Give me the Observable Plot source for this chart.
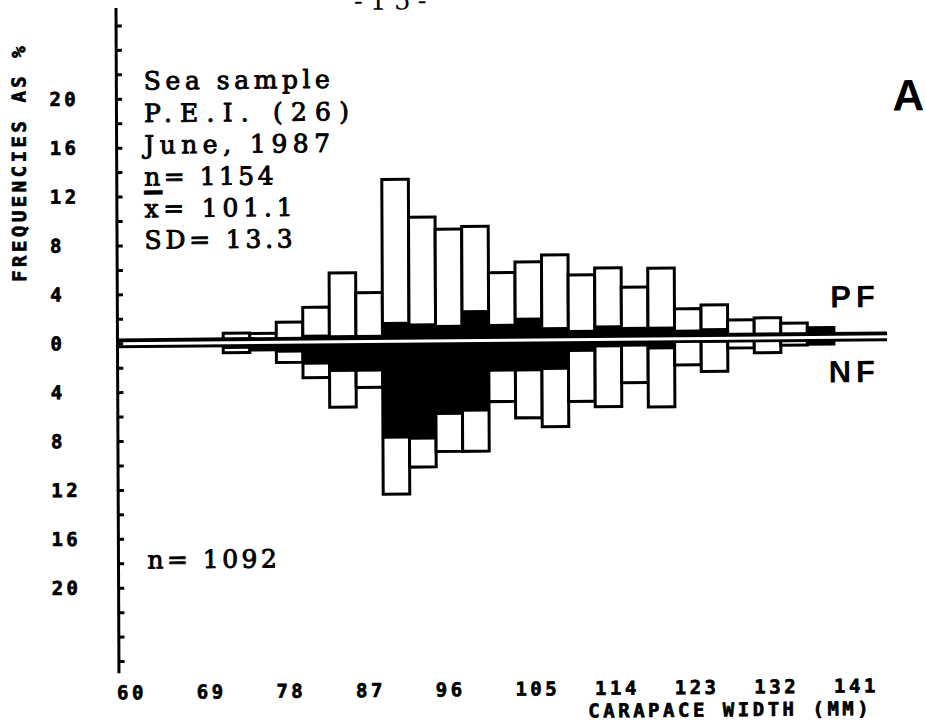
<!DOCTYPE html>
<html><head><meta charset="utf-8">
<script src="https://cdn.jsdelivr.net/npm/d3@7"></script>
<script src="https://cdn.jsdelivr.net/npm/@observablehq/plot@0.6"></script>
<style>
html,body{margin:0;padding:0;background:#fff;}
#chart svg{display:block;transform-origin:117px 343.3px;transform:matrix(1,-0.0091,0.0045,1,0,0);}
g[font-family^="DejaVu Sans Mono"] text{letter-spacing:3.5px;}
g[font-family="Liberation Sans, Arial"] text{letter-spacing:5px;}
</style></head><body><div id="chart"></div>
<script>
// ---- data (frequencies as %) ----
const bins    = [72, 75, 78, 81, 84, 87, 90, 93, 96, 99, 102, 105, 108, 111, 114, 117, 120, 123, 126, 129, 132, 135, 138];
const pfTotal = [0.75, 0.7, 1.6, 2.8, 5.6, 3.95, 13.2, 10.1, 9.1, 9.3, 5.5, 6.35, 6.9, 5.25, 5.8, 4.2, 5.75, 2.4, 2.7, 1.45, 1.6, 1.15, 0.75];
const pfBlack = [0.3, 0.3, 0.3, 0.55, 0.5, 0.5, 1.55, 1.4, 1.25, 2.45, 1.3, 1.8, 1.0, 0.75, 1.1, 0.95, 0.95, 0.7, 0.8, 0.25, 0.25, 0.2, 0.75];
const nfTotal = [0.85, 0.65, 1.7, 2.95, 5.4, 3.8, 12.55, 10.35, 9.1, 9.1, 5.05, 6.4, 7.15, 5.1, 5.55, 3.6, 5.6, 2.2, 2.75, 0.85, 1.25, 0.65, 0.6];
const nfBlack = [0.55, 0.65, 0.9, 1.9, 2.5, 2.5, 8.0, 8.1, 6.1, 5.85, 2.6, 2.6, 2.5, 1.05, 0.7, 0.65, 0.9, 0.3, 0.4, 0.35, 0.35, 0.4, 0.6];
const binWidth = 3;
const lineRange = [60, 147];
const lineFreq = 0.4;
const xDomain = [60, 147];
const yDomain = [-27, 27.43];
const xTicks = [60, 69, 78, 87, 96, 105, 114, 123, 132, 141];
const yLabelTicks = [-20, -16, -12, -8, -4, 0, 4, 8, 12, 16, 20];
const yMinorTicks = [-26, -24, -22, -20, -18, -16, -14, -12, -10, -8, -6, -4, -2, 0, 2, 4, 6, 8, 10, 12, 14, 16, 18, 20, 22, 24, 26];
const infoLines = ["Sea sample", "P.E.I. (26)", "June, 1987", "n= 1154", "x= 101.1", "SD= 13.3"];
const meanBar = "_";
const nfCount = "n= 1092";
const yTitle = "FREQUENCIES AS %";
const xTitle = "CARAPACE WIDTH (MM)";
const pfLabel = "PF";
const nfLabel = "NF";
const panelLabel = "A";
const pageNumber = "-15-";

const pf = bins.map((b, i) => ({bin: b, total: pfTotal[i], black: pfBlack[i]}));
const nf = bins.map((b, i) => ({bin: b, total: nfTotal[i], black: nfBlack[i]}));

const axisFont = {fontFamily: "DejaVu Sans Mono", fontWeight: "bold", fontSize: 19, fill: "black"};
const axisTextStroke = {textStroke: "black", textStrokeWidth: 0.7};
const textStroke = {stroke: "black", strokeWidth: 0.7};
const serif = {fontFamily: "DejaVu Serif", fontSize: 25, fill: "black", stroke: "black", strokeWidth: 0.9, frameAnchor: "top-left", textAnchor: "start", lineAnchor: "bottom"};
const baselines = [81.3, 113.8, 145.3, 177.3, 209, 240.5];

const chart = Plot.plot({
  width: 926, height: 726,
  marginLeft: 117, marginRight: 39, marginTop: 8, marginBottom: 52.7,
  x: {domain: xDomain},
  y: {domain: yDomain},
  style: {background: "white", overflow: "visible"},
  marks: [
    Plot.rect(pf, {x1: "bin", x2: d => d.bin + binWidth, y1: 0, y2: "total", fill: "white", stroke: "black", strokeWidth: 3}),
    Plot.rect(nf, {x1: "bin", x2: d => d.bin + binWidth, y1: 0, y2: d => -d.total, fill: "white", stroke: "black", strokeWidth: 3}),
    Plot.rect(pf, {x1: "bin", x2: d => d.bin + binWidth, y1: 0, y2: "black", fill: "black"}),
    Plot.rect(nf, {x1: "bin", x2: d => d.bin + binWidth, y1: 0, y2: d => -d.black, fill: "black"}),
    Plot.rect([lineRange], {x1: d => d[0], x2: d => d[1], y1: -lineFreq, y2: lineFreq, fill: "black"}),
    Plot.ruleY([0], {x1: lineRange[0] + 0.25, x2: lineRange[1], stroke: "white", strokeWidth: 3}),
    Plot.ruleX([xDomain[0]], {y1: yDomain[0], y2: yDomain[1], stroke: "black", strokeWidth: 3}),
    Plot.ruleY(yMinorTicks, {x1: xDomain[0], x2: xDomain[0] + 0.7, stroke: "black", strokeWidth: 3}),
    Plot.axisY({ticks: yLabelTicks, tickFormat: d => String(Math.abs(d)), tickSize: 0, tickPadding: 67, textAnchor: "start", label: null, ...axisFont, ...axisTextStroke}),
    Plot.axisX({ticks: xTicks, tickSize: 0, tickPadding: 12, textAnchor: "start", dx: -2, label: null, ...axisFont, ...axisTextStroke}),
    Plot.text([yTitle], {text: d => d, frameAnchor: "top-left", rotate: -90, textAnchor: "middle", lineAnchor: "middle", dx: -97, dy: 153, ...axisFont, ...textStroke}),
    Plot.text([xTitle], {text: d => d, frameAnchor: "bottom-right", textAnchor: "end", lineAnchor: "middle", dx: -17, dy: 42, ...axisFont, ...textStroke}),
    ...infoLines.map((line, i) => Plot.text([line], {text: d => d, dx: 27.5, dy: baselines[i], ...serif})),
    Plot.text([meanBar], {text: d => d, frameAnchor: "top-left", textAnchor: "start", lineAnchor: "bottom", dx: 27.5, dy: 177.5, fontFamily: "DejaVu Serif, serif", fontWeight: "bold", fontSize: 36, fill: "black", stroke: "black", strokeWidth: 0.8}),
    Plot.text([nfCount], {text: d => d, dx: 29, dy: 560.3, ...serif}),
    Plot.text([pfLabel], {text: d => d, frameAnchor: "top-left", textAnchor: "start", lineAnchor: "top", dx: 713, dy: 283.5, fontFamily: "Liberation Sans, Arial", fontWeight: "bold", fontSize: 31, fill: "black"}),
    Plot.text([nfLabel], {text: d => d, frameAnchor: "top-left", textAnchor: "start", lineAnchor: "top", dx: 711, dy: 358.5, fontFamily: "Liberation Sans, Arial", fontWeight: "bold", fontSize: 31, fill: "black"}),
    Plot.text([panelLabel], {text: d => d, frameAnchor: "top-left", textAnchor: "start", lineAnchor: "top", dx: 776, dy: 77.8, fontFamily: "Liberation Sans", fontWeight: "bold", fontSize: 44, fill: "black"}),
    Plot.text([pageNumber], {text: d => d, frameAnchor: "top-left", textAnchor: "start", lineAnchor: "bottom", dx: 238, dy: 3.5, fontFamily: "DejaVu Serif", fontSize: 26, fill: "black"})
  ]
});
// typewriter look: give every serif line a fixed character pitch
d3.select(chart).selectAll('g[font-family="DejaVu Serif"] text').each(function () {
  const n = this.textContent.length;
  this.setAttribute("textLength", n * 18.9 - 3);
  this.setAttribute("lengthAdjust", "spacing");
});
document.getElementById("chart").appendChild(chart);
</script></body></html>
